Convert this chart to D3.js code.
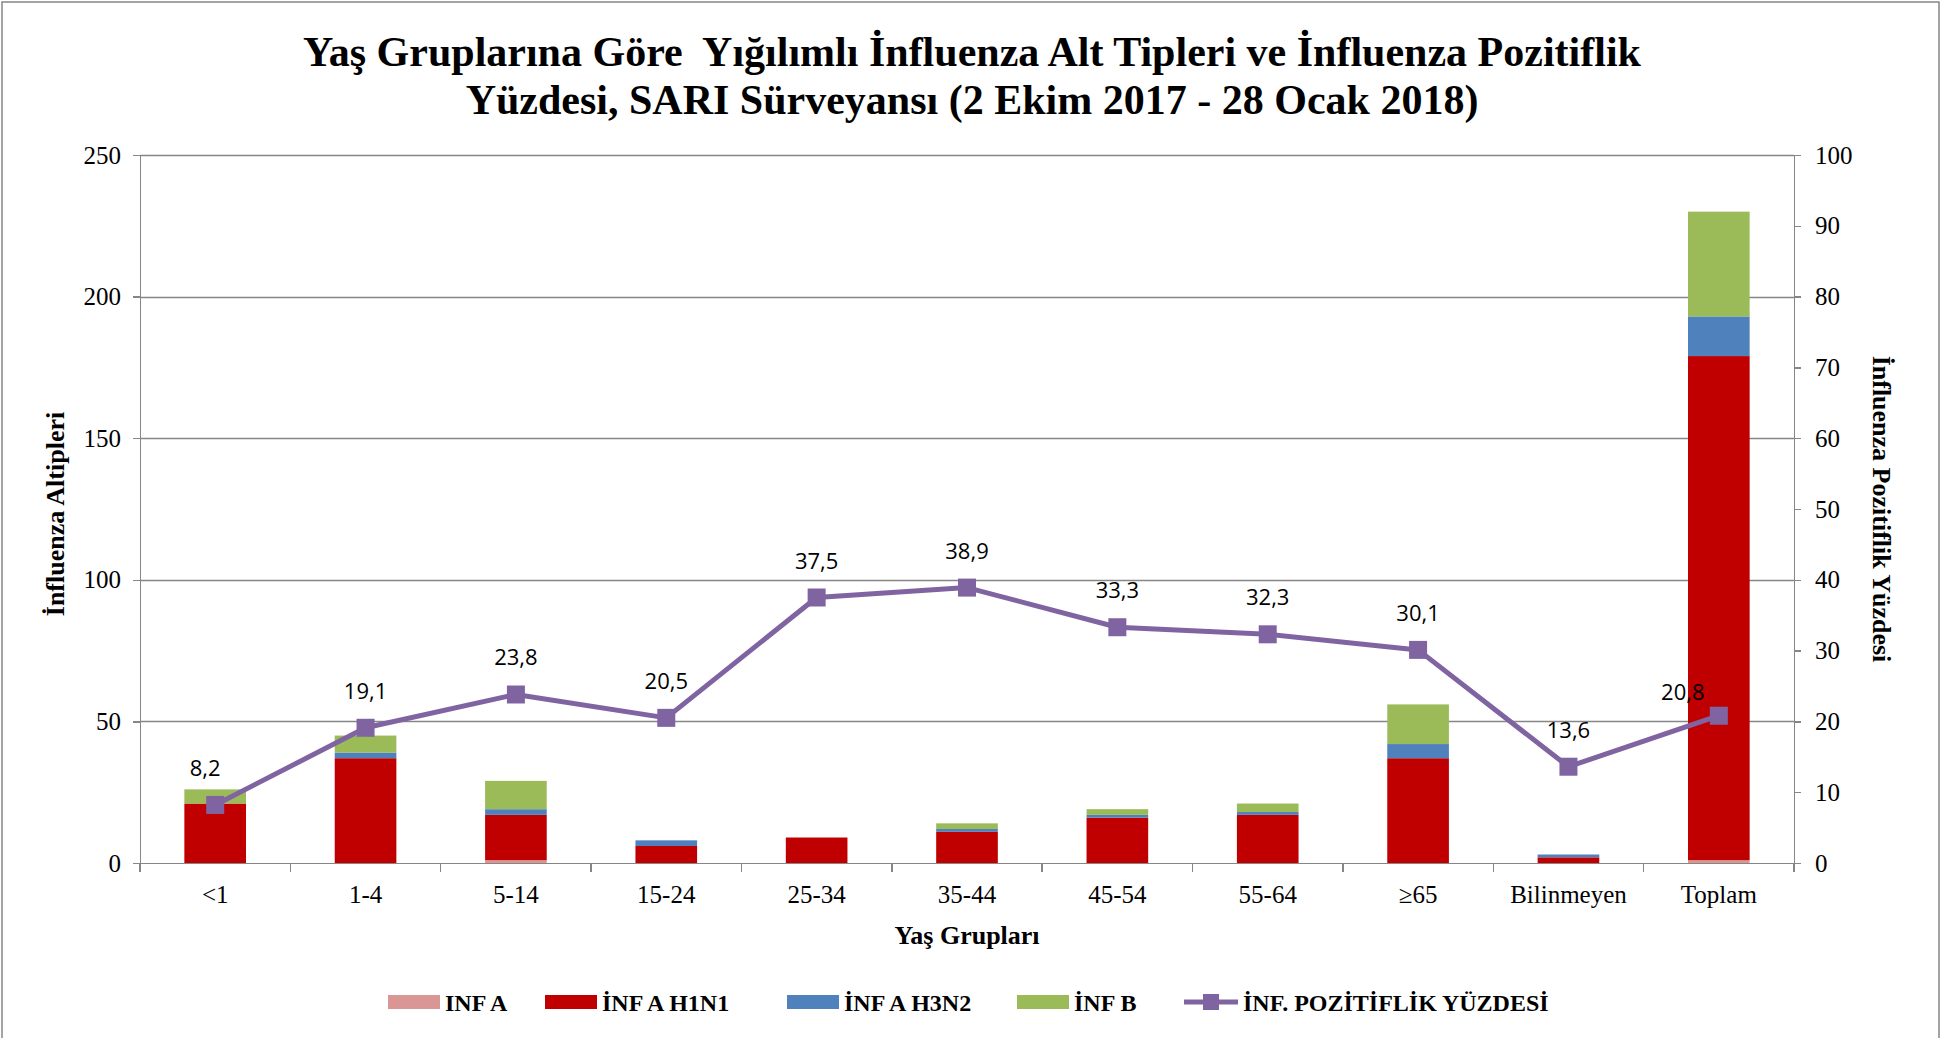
<html>
<head>
<meta charset="utf-8">
<title>Influenza alt tipleri</title>
<script src="https://d3js.org/d3.v7.min.js"></script>
<style>
body { margin: 0; background: #fff; }
.axis path, .axis line { stroke: #868686; stroke-width: 1.5; fill: none; shape-rendering: crispEdges; }
.axis text { font-family: "Liberation Serif", "Times New Roman", serif; font-size: 25px; fill: #000; }
.title { font-family: "Liberation Serif", "Times New Roman", serif; font-weight: bold; font-size: 42px; }
.axis-label { font-family: "Liberation Serif", "Times New Roman", serif; font-weight: bold; font-size: 26px; }
.legend text { font-family: "Liberation Serif", "Times New Roman", serif; font-weight: bold; font-size: 24px; }
.val { font-family: "Open Sans", sans-serif; font-size: 22px; }
</style>
</head>
<body>
<div id="chart"></div>
<script>
// data
var categories = ["<1", "1-4", "5-14", "15-24", "25-34", "35-44", "45-54", "55-64", "≥65", "Bilinmeyen", "Toplam"];
var infA  = [0, 0, 1, 0, 0, 0, 0, 0, 0, 0, 1];
var h1n1  = [21, 37, 16, 6, 9, 11, 16, 17, 37, 2, 178];
var h3n2  = [0, 2, 2, 2, 0, 1, 1, 1, 5, 1, 14];
var infB  = [5, 6, 10, 0, 0, 2, 2, 3, 14, 0, 37];
var pozitif = [8.2, 19.1, 23.8, 20.5, 37.5, 38.9, 33.3, 32.3, 30.1, 13.6, 20.8];
var leftTicks = [0, 50, 100, 150, 200, 250];
var rightTicks = [0, 10, 20, 30, 40, 50, 60, 70, 80, 90, 100];

var seriesNames = ["INF A", "İNF A H1N1", "İNF A H3N2", "İNF B"];
var seriesKeys = ["a", "h1", "h3", "b"];
var colors = ["#D99694", "#C00000", "#4F81BD", "#9BBB59"];
var lineColor = "#8064A2";

var width = 1944, height = 1038;
var plotLeft = 140, plotRight = 1794, plotTop = 155, plotBottom = 863;

var svg = d3.select("#chart").append("svg")
    .attr("width", width)
    .attr("height", height);

// chart border
svg.append("rect")
    .attr("x", 2).attr("y", 2)
    .attr("width", 1937).attr("height", 1060)
    .attr("fill", "none")
    .attr("stroke", "#868686")
    .attr("stroke-width", 1.5);

var x = d3.scaleBand()
    .domain(categories)
    .range([plotLeft, plotRight])
    .paddingInner(0.59)
    .paddingOuter(0.295);

var y = d3.scaleLinear().domain([0, 250]).range([plotBottom, plotTop]);
var y2 = d3.scaleLinear().domain([0, 100]).range([plotBottom, plotTop]);

// gridlines
svg.append("g")
    .selectAll("line")
    .data(leftTicks.slice(1))
    .enter().append("line")
    .attr("x1", plotLeft).attr("x2", plotRight)
    .attr("y1", function(d) { return Math.round(y(d)) + 0.5; })
    .attr("y2", function(d) { return Math.round(y(d)) + 0.5; })
    .attr("stroke", "#868686")
    .attr("stroke-width", 1.5);

// stacked bars
var table = categories.map(function(c, i) {
    return { cat: c, a: infA[i], h1: h1n1[i], h3: h3n2[i], b: infB[i] };
});
var stack = d3.stack().keys(seriesKeys)(table);

svg.append("g")
    .selectAll("g")
    .data(stack)
    .enter().append("g")
    .attr("fill", function(d, i) { return colors[i]; })
    .selectAll("rect")
    .data(function(d) { return d; })
    .enter().append("rect")
    .attr("x", function(d) { return x(d.data.cat); })
    .attr("width", x.bandwidth())
    .attr("y", function(d) { return y(d[1]); })
    .attr("height", function(d) { return y(d[0]) - y(d[1]); });

// axes
var xAxis = svg.append("g")
    .attr("class", "axis")
    .attr("transform", "translate(0," + plotBottom + ")")
    .call(d3.axisBottom(x).tickSize(0).tickPadding(22));

// category separator ticks, Excel style
xAxis.selectAll(".sep")
    .data(d3.range(categories.length + 1))
    .enter().append("line")
    .attr("class", "sep")
    .attr("x1", function(i) { return plotLeft + i * x.step(); })
    .attr("x2", function(i) { return plotLeft + i * x.step(); })
    .attr("y1", 0).attr("y2", 9);

svg.append("g")
    .attr("class", "axis")
    .attr("transform", "translate(" + plotLeft + ",0)")
    .call(d3.axisLeft(y).tickValues(leftTicks).tickSize(7).tickPadding(12));

svg.append("g")
    .attr("class", "axis")
    .attr("transform", "translate(" + plotRight + ",0)")
    .call(d3.axisRight(y2).tickValues(rightTicks).tickSize(7).tickPadding(14));

// positivity line
var cx = function(i) { return x(categories[i]) + x.bandwidth() / 2; };
var line = d3.line()
    .x(function(d, i) { return cx(i); })
    .y(function(d) { return y2(d); });

svg.append("path")
    .datum(pozitif)
    .attr("d", line)
    .attr("fill", "none")
    .attr("stroke", lineColor)
    .attr("stroke-width", 5)
    .attr("stroke-linejoin", "round");

svg.append("g")
    .selectAll("rect")
    .data(pozitif)
    .enter().append("rect")
    .attr("x", function(d, i) { return cx(i) - 9; })
    .attr("y", function(d) { return y2(d) - 9; })
    .attr("width", 18).attr("height", 18)
    .attr("fill", lineColor);

svg.append("g")
    .selectAll("text")
    .data(pozitif)
    .enter().append("text")
    .attr("class", "val")
    .attr("text-anchor", "middle")
    .attr("x", function(d, i) {
        if (i === 0) return cx(i) - 10;
        if (i === categories.length - 1) return cx(i) - 36;
        return cx(i);
    })
    .attr("y", function(d, i) {
        if (i === categories.length - 1) return y2(d) - 16;
        return y2(d) - 29;
    })
    .text(function(d) { return String(d).replace(".", ","); });

// titles
svg.append("text")
    .attr("class", "title")
    .attr("x", 972).attr("y", 66)
    .attr("text-anchor", "middle")
    .attr("xml:space", "preserve")
    .text("Yaş Gruplarına Göre  Yığılımlı İnfluenza Alt Tipleri ve İnfluenza Pozitiflik");

svg.append("text")
    .attr("class", "title")
    .attr("x", 972).attr("y", 114)
    .attr("text-anchor", "middle")
    .text("Yüzdesi, SARI Sürveyansı (2 Ekim 2017 - 28 Ocak 2018)");

svg.append("text")
    .attr("class", "axis-label")
    .attr("transform", "translate(64," + ((plotTop + plotBottom) / 2 + 5) + ") rotate(-90)")
    .attr("text-anchor", "middle")
    .text("İnfluenza Altipleri");

svg.append("text")
    .attr("class", "axis-label")
    .attr("transform", "translate(1873," + ((plotTop + plotBottom) / 2) + ") rotate(90)")
    .attr("text-anchor", "middle")
    .text("İnfluenza Pozitiflik Yüzdesi");

svg.append("text")
    .attr("class", "axis-label")
    .attr("x", (plotLeft + plotRight) / 2).attr("y", 944)
    .attr("text-anchor", "middle")
    .text("Yaş Grupları");

// legend
var legendX = [388, 545, 787, 1017];
var legend = svg.append("g").attr("class", "legend");
seriesNames.forEach(function(name, i) {
    legend.append("rect")
        .attr("x", legendX[i]).attr("y", 995)
        .attr("width", 52).attr("height", 14)
        .attr("fill", colors[i]);
    legend.append("text")
        .attr("x", legendX[i] + 57).attr("y", 1011)
        .text(name);
});
legend.append("line")
    .attr("x1", 1184).attr("x2", 1238)
    .attr("y1", 1002).attr("y2", 1002)
    .attr("stroke", lineColor).attr("stroke-width", 5);
legend.append("rect")
    .attr("x", 1203).attr("y", 994)
    .attr("width", 16).attr("height", 16)
    .attr("fill", lineColor);
legend.append("text")
    .attr("x", 1243).attr("y", 1011)
    .text("İNF. POZİTİFLİK YÜZDESİ");
</script>
</body>
</html>
